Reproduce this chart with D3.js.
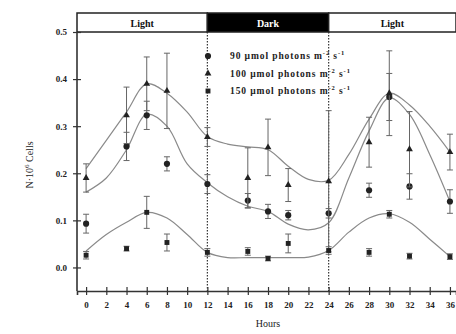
<!DOCTYPE html>
<html><head><meta charset="utf-8">
<script src="https://cdn.jsdelivr.net/npm/d3@7"></script>
<style>body{margin:0;background:#fff}svg{display:block}</style>
</head><body>
<svg id="c" width="456" height="334"></svg>
<script>
const hours = [0, 4, 6, 8, 12, 16, 18, 20, 24, 28, 30, 32, 36];
const s90  = [0.093, 0.257, 0.323, 0.220, 0.177, 0.142, 0.119, 0.111, 0.115, 0.164, 0.362, 0.172, 0.140];
const e90  = [0.020, 0.030, 0.030, 0.015, 0.020, 0.015, 0.015, 0.010, 0.010, 0.015, 0.050, 0.027, 0.025];
const s100 = [0.190, 0.323, 0.390, 0.375, 0.277, 0.190, 0.255, 0.175, 0.183, 0.266, 0.370, 0.251, 0.245];
const e100 = [0.030, 0.060, 0.057, 0.080, 0.020, 0.064, 0.060, 0.035, 0.150, 0.053, 0.090, 0.080, 0.038];
const s150 = [0.026, 0.040, 0.117, 0.053, 0.032, 0.034, 0.019, 0.051, 0.036, 0.032, 0.113, 0.024, 0.023];
const e150 = [0.008, 0.005, 0.034, 0.018, 0.008, 0.008, 0.005, 0.020, 0.008, 0.008, 0.008, 0.006, 0.006];
const fitHours = [0, 2, 4, 6, 8, 10, 12, 14, 16, 18, 20, 22, 24, 26, 28, 30, 32, 34, 36];
const fit100 = [0.21, 0.27, 0.33, 0.39, 0.37, 0.33, 0.278, 0.262, 0.256, 0.25, 0.215, 0.187, 0.185, 0.24, 0.315, 0.37, 0.345, 0.30, 0.245];
const fit90  = [0.16, 0.19, 0.25, 0.325, 0.30, 0.22, 0.18, 0.15, 0.13, 0.119, 0.092, 0.08, 0.095, 0.19, 0.29, 0.36, 0.325, 0.24, 0.14];
const fit150 = [0.035, 0.07, 0.096, 0.117, 0.105, 0.07, 0.032, 0.021, 0.021, 0.021, 0.021, 0.022, 0.036, 0.075, 0.105, 0.114, 0.096, 0.06, 0.023];
const xTicks = [0, 2, 4, 6, 8, 10, 12, 14, 16, 18, 20, 22, 24, 26, 28, 30, 32, 34, 36];
const yTicks = [0.0, 0.1, 0.2, 0.3, 0.4, 0.5];
const phases = [{name: "Light", from: -0.9, to: 12}, {name: "Dark", from: 12, to: 24}, {name: "Light", from: 24, to: 36.6}];
const legendLabels = ["90 µmol photons m", "100 µmol photons m", "150 µmol photons m"];

const svg = d3.select("#c");
const x = d3.scaleLinear().domain([-0.9, 36.6]).range([77, 456]);
const y = d3.scaleLinear().domain([-0.05, 0.5]).range([291, 32]);
const serif = "'Liberation Serif','DejaVu Serif',serif";

// light/dark bar
const bar = svg.append("g");
phases.forEach(p => {
  bar.append("rect").attr("x", x(p.from)).attr("y", 13).attr("width", x(p.to) - x(p.from)).attr("height", 19)
    .attr("fill", p.name === "Dark" ? "#000" : "#fff").attr("stroke", "#222").attr("stroke-width", 1.5);
  bar.append("text").attr("x", (x(p.from) + x(p.to)) / 2).attr("y", 26.5).attr("text-anchor", "middle")
    .attr("font-family", serif).attr("font-weight", "bold").attr("font-size", 10)
    .attr("fill", p.name === "Dark" ? "#fff" : "#111").text(p.name);
});

// dotted day/night lines
[12, 24].forEach(h => {
  svg.append("line").attr("x1", x(h)).attr("x2", x(h)).attr("y1", 32).attr("y2", 291)
    .attr("stroke", "#333").attr("stroke-width", 1.2).attr("stroke-dasharray", "1.5,1.5");
});

// axes
const yAxis = svg.append("g").attr("transform", "translate(77,0)")
  .call(d3.axisLeft(y).tickValues(yTicks).tickFormat(d3.format(".1f")).tickSize(4));
yAxis.selectAll(".tick line").attr("x1", 4).attr("x2", -4);
const xAxis = svg.append("g").attr("transform", "translate(0,291)")
  .call(d3.axisBottom(x).tickValues(xTicks).tickFormat(d3.format("d")).tickSize(4));
xAxis.selectAll(".tick line").attr("y1", -4).attr("y2", 4);
[yAxis, xAxis].forEach(a => {
  a.select(".domain").attr("stroke", "#333").attr("stroke-width", 1.6);
  a.selectAll(".tick line").attr("stroke", "#333").attr("stroke-width", 1.2);
  a.selectAll("text").attr("font-family", serif).attr("font-weight", "bold").attr("font-size", 9).attr("fill", "#222");
});
yAxis.select(".domain").attr("d", "M0,32V291");
yAxis.selectAll("text").attr("x", -10);
xAxis.selectAll("text").attr("y", 11);

// axis titles
svg.append("text").attr("x", 268).attr("y", 327).attr("text-anchor", "middle")
  .attr("font-family", serif).attr("font-size", 10).attr("fill", "#222").text("Hours");
svg.append("text").attr("transform", "translate(33,165) rotate(-90)").attr("text-anchor", "middle")
  .attr("font-family", serif).attr("font-size", 10).attr("fill", "#222")
  .html('N·10<tspan dy="-4" font-size="7">6</tspan><tspan dy="4"> Cells</tspan>');

// fit curves
const line = d3.line().x((d, i) => x(fitHours[i])).y(d => y(d)).curve(d3.curveCatmullRom.alpha(0.5));
[fit100, fit90, fit150].forEach(f => {
  svg.append("path").attr("d", line(f)).attr("fill", "none").attr("stroke", "#8a8a8a").attr("stroke-width", 1.2);
});

// error bars and markers
const series = [
  {v: s90, e: e90, sym: d3.symbolCircle, size: 30},
  {v: s100, e: e100, sym: d3.symbolTriangle, size: 20},
  {v: s150, e: e150, sym: d3.symbolSquare, size: 24}
];
series.forEach(s => {
  const g = svg.append("g");
  hours.forEach((h, i) => {
    const cx = x(h), lo = y(s.v[i] - s.e[i]), hi = y(s.v[i] + s.e[i]);
    g.append("line").attr("x1", cx).attr("x2", cx).attr("y1", lo).attr("y2", hi).attr("stroke", "#666").attr("stroke-width", 1);
    [lo, hi].forEach(yy => g.append("line").attr("x1", cx - 3).attr("x2", cx + 3).attr("y1", yy).attr("y2", yy).attr("stroke", "#666").attr("stroke-width", 1));
  });
  g.selectAll("path.m").data(s.v).join("path").attr("class", "m")
    .attr("transform", (d, i) => `translate(${x(hours[i])},${y(d)})`)
    .attr("d", d3.symbol().type(s.sym).size(s.size)).attr("fill", "#222");
});

// legend
const lg = svg.append("g");
series.forEach((s, i) => {
  const yy = 56 + i * 17.5;
  lg.append("path").attr("transform", `translate(208,${yy})`).attr("d", d3.symbol().type(s.sym).size(s.size)).attr("fill", "#222");
  lg.append("text").attr("x", 230).attr("y", yy + 3).attr("font-family", serif).attr("font-weight", "bold").attr("font-size", 9.5)
    .attr("letter-spacing", 0.9).attr("fill", "#222")
    .html(legendLabels[i] + '<tspan dy="-4" font-size="6.5">-2</tspan><tspan dy="4"> s</tspan><tspan dy="-4" font-size="6.5">-1</tspan>');
});
</script>
</body></html>
